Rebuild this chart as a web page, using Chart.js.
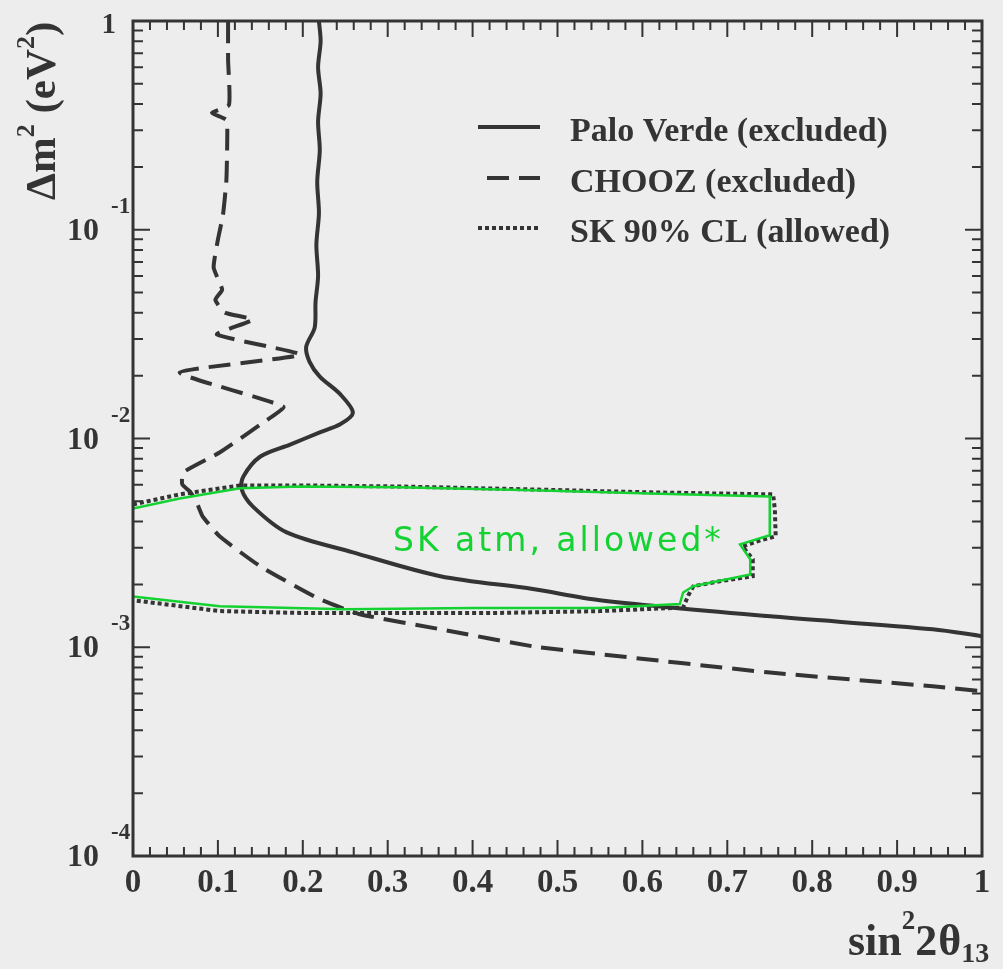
<!DOCTYPE html>
<html>
<head>
<meta charset="utf-8">
<script src="https://cdn.jsdelivr.net/npm/chart.js@4.4.0/dist/chart.umd.min.js"></script>
<style>
  body { margin: 0; background: #eeeded; }
  #wrap { width: 1003px; height: 969px; position: relative; }
</style>
</head>
<body>
<div id="wrap"><canvas id="myChart"></canvas></div>
<script>
'use strict';

// Palo Verde exclusion curve (solid)
let paloX = [0.219, 0.221, 0.218, 0.221, 0.218, 0.220, 0.217, 0.219, 0.216, 0.218, 0.215, 0.214,
  0.204, 0.208, 0.220, 0.244, 0.259, 0.244, 0.220, 0.185, 0.150, 0.130, 0.128, 0.141,
  0.181, 0.259, 0.362, 0.471, 0.550, 0.747, 0.942, 1.0];
let paloY = [1, 0.8, 0.6, 0.45, 0.33, 0.24, 0.17, 0.12, 0.085, 0.06, 0.045, 0.034,
  0.0275, 0.0233, 0.0198, 0.0163, 0.0133, 0.0117, 0.0107, 0.00935, 0.0082, 0.00658, 0.0057, 0.00473,
  0.00355, 0.00285, 0.00219, 0.0019, 0.00168, 0.00141, 0.00122, 0.00113];

// CHOOZ exclusion curve (dashed)
let choozX = [0.112, 0.112, 0.113, 0.093, 0.110, 0.111, 0.110, 0.106, 0.100, 0.095, 0.105, 0.097,
  0.108, 0.141, 0.099, 0.197, 0.055, 0.177, 0.153, 0.102, 0.059, 0.058, 0.067, 0.075,
  0.082, 0.102, 0.150, 0.220, 0.267, 0.362, 0.471, 0.550, 0.747, 0.942, 1.0];
let choozY = [1, 0.65, 0.396, 0.363, 0.336, 0.27, 0.173, 0.118, 0.0896, 0.0658, 0.0516, 0.0462,
  0.0401, 0.0371, 0.0315, 0.0252, 0.0207, 0.0142, 0.0119, 0.00857, 0.00687, 0.00603, 0.00557, 0.00494,
  0.00424, 0.0034, 0.00244, 0.0017, 0.00144, 0.00122, 0.00101, 0.000927, 0.000759, 0.00065, 0.000615];

// SK 90% CL allowed contour (dotted)
let skX = [0, 0.055, 0.126, 0.197, 0.314, 0.471, 0.609, 0.754, 0.756, 0.757, 0.739, 0.718,
  0.730, 0.730, 0.691, 0.660, 0.654, 0.648, 0.550, 0.432, 0.314, 0.197, 0.102, 0];
let skY = [0.00483, 0.0054, 0.00596, 0.00596, 0.00589, 0.0057, 0.00552, 0.0054, 0.00457, 0.0034, 0.00325, 0.00304,
  0.00264, 0.00219, 0.00207, 0.00196, 0.00177, 0.00155, 0.00149, 0.00146, 0.00146, 0.00146, 0.00149, 0.00168];

// hand-drawn green outline of the SK atm region
let greenX = [0, 0.055, 0.126, 0.197, 0.314, 0.471, 0.609, 0.750, 0.750, 0.715, 0.727, 0.727,
  0.660, 0.648, 0.644, 0.550, 0.400, 0.250, 0.102, 0];
let greenY = [0.00462, 0.00516, 0.00577, 0.00589, 0.00584, 0.00565, 0.00545, 0.00527, 0.00344, 0.00311, 0.00264, 0.00223,
  0.00196, 0.00183, 0.00161, 0.00154, 0.00154, 0.00152, 0.00157, 0.00175];

let xTicks = [0, 0.1, 0.2, 0.3, 0.4, 0.5, 0.6, 0.7, 0.8, 0.9, 1];
let xTickLabels = ['0', '0.1', '0.2', '0.3', '0.4', '0.5', '0.6', '0.7', '0.8', '0.9', '1'];
let yDecades = [0, -1, -2, -3, -4];

let serif = '"Liberation Serif", "Times New Roman", serif';
let ink = '#343434';
let green = '#14d232';

function toPoints(xs, ys) {
  return xs.map((x, i) => ({ x: x, y: ys[i] }));
}

// draws text pieces in a row, with super/subscripts
function drawRich(ctx, parts, x, y) {
  for (let p of parts) {
    ctx.font = 'bold ' + p.size + 'px ' + serif;
    ctx.fillText(p.t, x, y + (p.dy || 0));
    x += ctx.measureText(p.t).width + (p.gap || 0);
  }
}

let framePlugin = {
  id: 'framePlugin',
  afterDatasetsDraw(chart) {
    let ctx = chart.ctx;
    let a = chart.chartArea;
    let xs = chart.scales.x;
    let ys = chart.scales.y;
    ctx.save();
    ctx.strokeStyle = ink;
    ctx.fillStyle = ink;
    ctx.lineWidth = 3;
    ctx.strokeRect(a.left, a.top, a.right - a.left, a.bottom - a.top);

    // x ticks, inward on bottom and top
    ctx.lineWidth = 2;
    ctx.beginPath();
    for (let i = 0; i <= 50; i++) {
      let px = xs.getPixelForValue(i / 50);
      let len = i % 5 === 0 ? 16 : 9;
      ctx.moveTo(px, a.bottom);
      ctx.lineTo(px, a.bottom - len);
      ctx.moveTo(px, a.top);
      ctx.lineTo(px, a.top + len);
    }
    // y ticks, log decades with minors
    for (let d = -4; d <= 0; d++) {
      for (let k = 1; k <= 9; k++) {
        let v = k * Math.pow(10, d);
        if (v > 1) break;
        let py = ys.getPixelForValue(v);
        let len = k === 1 ? 17 : 10;
        ctx.moveTo(a.left, py);
        ctx.lineTo(a.left + len, py);
        ctx.moveTo(a.right, py);
        ctx.lineTo(a.right - len, py);
      }
    }
    ctx.stroke();

    // x tick labels
    ctx.textAlign = 'center';
    ctx.textBaseline = 'alphabetic';
    ctx.font = 'bold 33px ' + serif;
    xTicks.forEach((v, i) => {
      ctx.fillText(xTickLabels[i], xs.getPixelForValue(v), a.bottom + 36);
    });

    // y tick labels: 1, 10^-1 ...
    yDecades.forEach(d => {
      let py = ys.getPixelForValue(Math.pow(10, d));
      if (d === 0) {
        ctx.textAlign = 'right';
        ctx.font = 'bold 29px ' + serif;
        ctx.fillText('1', 116, py + 12);
      } else {
        ctx.textAlign = 'right';
        ctx.font = 'bold 32px ' + serif;
        ctx.fillText('10', 99, py + 10);
        ctx.textAlign = 'left';
        ctx.font = 'bold 23px ' + serif;
        ctx.fillText('-' + (-d), 111, py - 17);
      }
    });

    // axis titles
    ctx.textAlign = 'left';
    drawRich(ctx, [
      { t: 'sin', size: 44 },
      { t: '2', size: 27, dy: -26 },
      { t: '2', size: 44, gap: 1 },
      { t: '\u03b8', size: 44 },
      { t: '13', size: 28, dy: 7 }
    ], 848, 955);

    ctx.save();
    ctx.translate(55, 200);
    ctx.rotate(-Math.PI / 2);
    drawRich(ctx, [
      { t: '\u0394m', size: 43 },
      { t: '2', size: 26, dy: -21 },
      { t: ' (eV', size: 43 },
      { t: '2', size: 26, dy: -21 },
      { t: ')', size: 43 }
    ], 0, 0);
    ctx.restore();

    // legend
    let rows = [127, 178, 228];
    chart.data.datasets.filter(ds => ds.inLegend).forEach((ds, i) => {
      let y = rows[i];
      ctx.save();
      ctx.strokeStyle = ds.borderColor;
      ctx.lineWidth = ds.borderWidth;
      ctx.setLineDash(ds.borderDash || []);
      ctx.beginPath();
      ctx.moveTo(ds.borderDash && ds.borderDash[0] > 10 ? 487 : 478, y);
      ctx.lineTo(540, y);
      ctx.stroke();
      ctx.restore();
      ctx.textAlign = 'left';
      ctx.font = 'bold 34px ' + serif;
      ctx.fillText(ds.label, 570, y + 14);
    });

    // hand-written note
    ctx.fillStyle = green;
    ctx.font = '33px "DejaVu Sans", sans-serif';
    ctx.letterSpacing = '3px';
    ctx.fillText('SK atm, allowed*', 393, 551);
    ctx.restore();
  }
};

let chartConfig = {
  type: 'scatter',
  data: {
    datasets: [
      {
        label: 'SK atm outline',
        data: toPoints(greenX, greenY),
        showLine: true,
        borderColor: green,
        borderWidth: 2.5,
        pointRadius: 0,
        tension: 0
      },
      {
        label: 'Palo Verde (excluded)',
        inLegend: true,
        data: toPoints(paloX, paloY),
        showLine: true,
        borderColor: ink,
        borderWidth: 4,
        pointRadius: 0,
        tension: 0.3
      },
      {
        label: 'CHOOZ (excluded)',
        inLegend: true,
        data: toPoints(choozX, choozY),
        showLine: true,
        borderColor: ink,
        borderWidth: 4,
        borderDash: [22, 10],
        pointRadius: 0,
        tension: 0.15
      },
      {
        label: 'SK 90% CL (allowed)',
        inLegend: true,
        data: toPoints(skX, skY),
        showLine: true,
        borderColor: ink,
        borderWidth: 4,
        borderDash: [4, 3],
        pointRadius: 0,
        tension: 0
      }
    ]
  },
  options: {
    responsive: true,
    maintainAspectRatio: false,
    animation: false,
    layout: { padding: { left: 133, right: 21, top: 21, bottom: 113 } },
    plugins: { legend: { display: false }, tooltip: { enabled: false } },
    scales: {
      x: { type: 'linear', min: 0, max: 1, display: false },
      y: { type: 'logarithmic', min: 0.0001, max: 1, display: false }
    }
  },
  plugins: [framePlugin]
};

const ctx = document.getElementById('myChart').getContext('2d');
// eslint-disable-next-line no-undef
new Chart(ctx, chartConfig);
</script>
</body>
</html>
